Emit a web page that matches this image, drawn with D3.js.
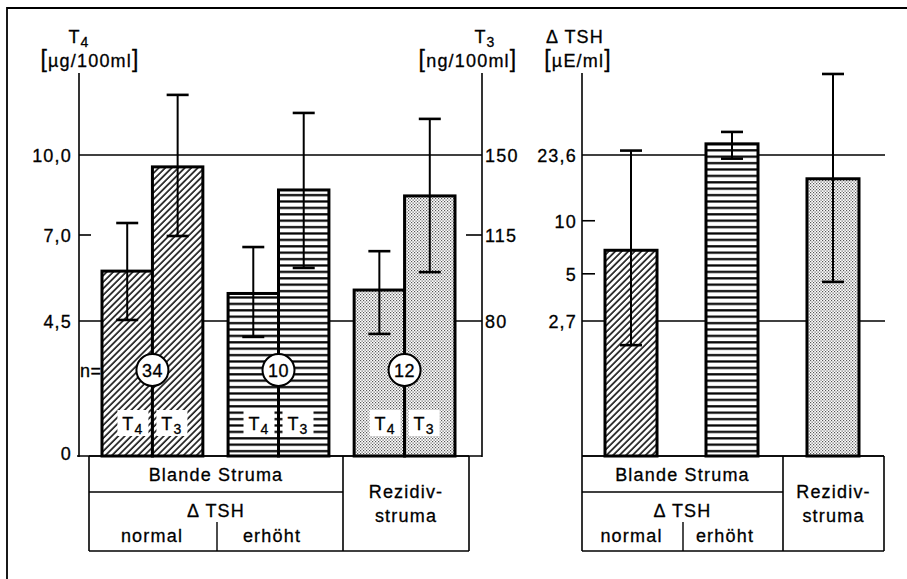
<!DOCTYPE html>
<html><head><meta charset="utf-8">
<script src="https://cdn.jsdelivr.net/npm/d3@7"></script>
<style>
html,body{margin:0;padding:0;background:#fff;}
svg text{font-family:"Liberation Sans",Arial,Helvetica,sans-serif;font-size:18px;letter-spacing:1.2px;fill:#000;stroke:#000;stroke-width:0.3px;}
</style></head>
<body><svg id="c" width="907" height="579"></svg>
<script>
// ---------- data ----------
const groups = ["normal", "erhöht", "rezidiv"];
const nValues = [34, 10, 12];
const t4Mean = [5.95, 5.3, 5.4];
const t4Low = [4.53, 3.97, 4.07];
const t4High = [7.45, 6.65, 6.53];
const t3Mean = [144.8, 134.7, 132.1];
const t3Low = [114.6, 101.6, 99.9];
const t3High = [176.3, 168.4, 165.8];
const tshMean = [6.8, 27.3, 17.3];
const tshLow = [1.97, 22.5, 4.5];
const tshHigh = [25, 31.9, 68];
const t4Ticks = [0, 4.5, 7.0, 10.0];
const t4TickLabels = ["0", "4,5", "7,0", "10,0"];
const t3Ticks = [80, 115, 150];
const t3TickLabels = ["80", "115", "150"];
const tshTicks = [2.7, 5, 10, 23.6];
const tshTickLabels = ["2,7", "5", "10", "23,6"];

// ---------- layout ----------
const svg = d3.select("#c");
const base = 456, axTop = 73;
const yLow = 321, yMid = 235, yHigh = 155;
const xL = 79, xR = 482, xT = 582, xTEnd = 885;

const yT4 = d3.scaleLinear().domain(t4Ticks).range([base, yLow, yMid, yHigh]);
const yT3 = d3.scaleLinear().domain(t3Ticks).range([yLow, yMid, yHigh]);
const yTSH = d3.scaleLog().domain([2.7, 23.6]).range([yLow, yHigh]);

const xG = d3.scaleBand().domain(groups).range([102, 455]).paddingInner(0.2).paddingOuter(0);
const xSub = d3.scaleBand().domain(["T4", "T3"]).range([0, xG.bandwidth()]);
const xR2 = d3.scaleBand().domain(groups).range([605, 859]).paddingInner(0.485).paddingOuter(0);

// patterns
const defs = svg.append("defs");
const pd = defs.append("pattern").attr("id", "diag").attr("patternUnits", "userSpaceOnUse")
  .attr("width", 4.6).attr("height", 10).attr("patternTransform", "rotate(45)");
pd.append("rect").attr("width", 4.6).attr("height", 10).attr("fill", "#fff");
pd.append("line").attr("x1", 1).attr("x2", 1).attr("y1", 0).attr("y2", 10).attr("stroke", "#000").attr("stroke-width", 1.5);
const ph = defs.append("pattern").attr("id", "horiz").attr("patternUnits", "userSpaceOnUse")
  .attr("width", 10).attr("height", 6.4);
ph.append("rect").attr("width", 10).attr("height", 6.4).attr("fill", "#fff");
ph.append("rect").attr("y", 2).attr("width", 10).attr("height", 2.2).attr("fill", "#000");
const ps = defs.append("pattern").attr("id", "stip").attr("patternUnits", "userSpaceOnUse")
  .attr("width", 3).attr("height", 3);
ps.append("rect").attr("width", 3).attr("height", 3).attr("fill", "#fff");
ps.append("rect").attr("width", 1.2).attr("height", 1.2).attr("fill", "#555");
ps.append("rect").attr("x", 1.5).attr("y", 1.5).attr("width", 1.2).attr("height", 1.2).attr("fill", "#555");
const fills = {normal: "url(#diag)", "erhöht": "url(#horiz)", rezidiv: "url(#stip)"};

// frame
svg.append("line").attr("x1", 7).attr("x2", 907).attr("y1", 8).attr("y2", 8).attr("stroke", "#000").attr("stroke-width", 1.8);
svg.append("line").attr("x1", 7).attr("x2", 7).attr("y1", 7).attr("y2", 579).attr("stroke", "#000").attr("stroke-width", 1.8);

const ln = (x1, y1, x2, y2, w) => svg.append("line").attr("x1", x1).attr("y1", y1).attr("x2", x2).attr("y2", y2)
  .attr("stroke", "#000").attr("stroke-width", w || 1.4);

// gridlines
[4.5, 10.0].forEach(v => ln(xL, yT4(v), xR, yT4(v), 1.3));
[2.7, 23.6].forEach(v => ln(xT, yTSH(v), xTEnd, yTSH(v), 1.3));

// axis lines
ln(xL, axTop, xL, base + 1, 1.6);
ln(xR, axTop, xR, base + 1, 1.6);
ln(xT, axTop, xT, base, 1.6);
ln(xL - 2, base, xR, base, 1.6);
ln(xT, base, xTEnd - 1, base, 1.6);
// short ticks
ln(xL, yT4(7.0), xL + 12, yT4(7.0), 1.6);
ln(xR - 16, yT3(115), xR, yT3(115), 1.6);
[5, 10].forEach(v => ln(xT, yTSH(v), xT + 13, yTSH(v), 1.6));

// axes labels via d3 axes
const fmt = (ticks, labels) => d => labels[ticks.indexOf(d)];
const gl = svg.append("g").attr("transform", `translate(${xL},0)`)
  .call(d3.axisLeft(yT4).tickValues(t4Ticks).tickSize(0).tickPadding(7).tickFormat(fmt(t4Ticks, t4TickLabels)));
const gr = svg.append("g").attr("transform", `translate(${xR},0)`)
  .call(d3.axisRight(yT3).tickValues(t3Ticks).tickSize(0).tickPadding(3).tickFormat(fmt(t3Ticks, t3TickLabels)));
const gt = svg.append("g").attr("transform", `translate(${xT},0)`)
  .call(d3.axisLeft(yTSH).tickValues(tshTicks).tickSize(0).tickPadding(5).tickFormat(fmt(tshTicks, tshTickLabels)));
[gl, gr, gt].forEach(g => {
  g.select(".domain").remove();
  g.selectAll("text").attr("font-size", null).attr("font-family", null).style("font-size", "18px").attr("dy", "0.36em");
});
gl.selectAll("text").filter(d => d === 0).attr("dy", "0.2em");

// ---------- left bars ----------
const bars = [];
groups.forEach((g, i) => {
  bars.push({g, k: "T4", x: xG(g) + xSub("T4"), y: yT4(t4Mean[i]), hi: yT4(t4High[i]), lo: yT4(t4Low[i])});
  bars.push({g, k: "T3", x: xG(g) + xSub("T3"), y: yT3(t3Mean[i]), hi: yT3(t3High[i]), lo: yT3(t3Low[i])});
});
const bw = xSub.bandwidth();
svg.selectAll("rect.bar").data(bars).join("rect").attr("class", "bar")
  .attr("x", d => d.x).attr("y", d => d.y).attr("width", bw).attr("height", d => base - d.y)
  .attr("fill", d => fills[d.g]).attr("stroke", "#000").attr("stroke-width", 3);

function errBar(cx, hi, lo) {
  ln(cx, hi, cx, lo, 2);
  ln(cx - 11, hi, cx + 11, hi, 2.6);
  ln(cx - 11, lo, cx + 11, lo, 2.6);
}
bars.forEach(d => errBar(d.x + bw / 2, d.hi, d.lo));

// n circles and labels
const cy = base - 86;
groups.forEach((g, i) => {
  const cx = xG(g) + xSub("T3");
  svg.append("circle").attr("cx", cx).attr("cy", cy).attr("r", 16).attr("fill", "#fff").attr("stroke", "#000").attr("stroke-width", 2);
  svg.append("text").attr("x", cx).attr("y", cy + 6.5).attr("text-anchor", "middle").style("letter-spacing", "0.5px").text(nValues[i]);
  // T4 / T3 label boxes
  [["T4", "4", -1], ["T3", "3", 1]].forEach(([k, sub, s]) => {
    const bx = s < 0 ? cx - 4 - 31 : cx + 4;
    svg.append("rect").attr("x", bx).attr("y", base - 46).attr("width", 31).attr("height", 26).attr("fill", "#fff");
    const t = svg.append("text").attr("x", bx + 15.5).attr("y", base - 26).attr("text-anchor", "middle");
    t.append("tspan").text("T");
    t.append("tspan").attr("dy", 4).style("font-size", "14px").text(sub);
  });
});
svg.append("text").attr("x", 80).attr("y", cy + 6.5).style("letter-spacing", "0.5px").text("n=");

// ---------- right bars ----------
const rbw = xR2.bandwidth();
svg.selectAll("rect.rbar").data(groups).join("rect").attr("class", "rbar")
  .attr("x", g => xR2(g)).attr("y", (g, i) => yTSH(tshMean[i])).attr("width", rbw)
  .attr("height", (g, i) => base - yTSH(tshMean[i]))
  .attr("fill", g => fills[g]).attr("stroke", "#000").attr("stroke-width", 3);
groups.forEach((g, i) => errBar(xR2(g) + rbw / 2, yTSH(tshHigh[i]), yTSH(tshLow[i])));

// ---------- axis titles ----------
function title(x, y, main, sub) {
  const t = svg.append("text").attr("x", x).attr("y", y).attr("text-anchor", "middle");
  t.append("tspan").text(main);
  if (sub) t.append("tspan").attr("dy", 4).style("font-size", "14px").text(sub);
}
function unit(x, y, inner) {
  const t = svg.append("text").attr("x", x).attr("y", y).attr("text-anchor", "middle");
  t.append("tspan").style("font-size", "23px").text("[");
  t.append("tspan").text(inner);
  t.append("tspan").style("font-size", "23px").text("]");
}
title(79, 43, "T", "4");
unit(90, 67, "µg/100ml");
title(485, 43, "T", "3");
unit(468, 67, "ng/100ml");
svg.append("text").attr("x", 575).attr("y", 43).attr("text-anchor", "middle").text("Δ TSH");
unit(578, 67, "µE/ml");

// ---------- tables ----------
function table(x0, xm, xd, x1) {
  const yT = base, yRow = 492, yB = 551;
  ln(x0, yT, x0, yB, 1.6); ln(x1, yT, x1, yB, 1.6); ln(x0, yB, x1, yB, 1.6); ln(x0, yT, x1, yT, 1.6);
  ln(xm, yT, xm, yB, 1.6); ln(x0, yRow, xm, yRow, 1.4); ln(xd, 522, xd, yB, 1.4);
  const txt = (x, y, s) => svg.append("text").attr("x", x).attr("y", y).attr("text-anchor", "middle").text(s);
  txt((x0 + xm) / 2, 481, "Blande Struma");
  txt((x0 + xm) / 2, 517, "Δ TSH");
  txt((x0 + xd) / 2 - 1, 542, "normal");
  txt((xd + xm) / 2 - 8, 542, "erhöht");
  txt((xm + x1) / 2, 498, "Rezidiv-");
  txt((xm + x1) / 2, 522, "struma");
}
table(89, 343, 217, 469);
table(582, 783, 683, 884);
</script></body></html>
